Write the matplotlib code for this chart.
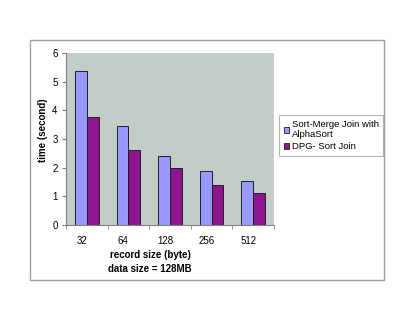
import matplotlib
matplotlib.use('Agg')
import matplotlib.pyplot as plt
import matplotlib.patches as mpatches
import numpy as np

# data
record_sizes = ['32', '64', '128', '256', '512']
sort_merge = [5.37, 3.45, 2.42, 1.88, 1.53]
dpg_sort = [3.78, 2.60, 2.00, 1.39, 1.10]
series_names = ['Sort-Merge Join with\nAlphaSort', 'DPG- Sort Join']

blue = '#9999FF'
purple = '#8E1590'
bg = '#C4CCC8'

plt.rcParams['font.family'] = ['Liberation Sans', 'DejaVu Sans']

fig = plt.figure(figsize=(4.15, 3.21), dpi=100)
W, H = 415.0, 321.0

# outer chart border
fig.patches.append(mpatches.Rectangle((30 / W, 1 - 280 / H), (384 - 30) / W, (280 - 40) / H,
                                      transform=fig.transFigure, fill=False,
                                      edgecolor='#A0A0A0', linewidth=1.0))

ax = fig.add_axes([66 / W, 1 - 225 / H, (274 - 66) / W, (225 - 53) / H])
ax.set_facecolor(bg)

x = np.arange(len(record_sizes)) + 0.5
bw = 1 / 3.5
ax.bar(x - bw / 2, sort_merge, bw, color=blue, edgecolor='#202020', linewidth=0.7)
ax.bar(x + bw / 2, dpg_sort, bw, color=purple, edgecolor='#202020', linewidth=0.7)

ax.set_xlim(0, len(record_sizes))
ax.set_ylim(0, 6)
ax.set_yticks(range(7))
ax.set_xticks(x - 0.12)
ax.set_xticklabels(record_sizes)
ax.set_xticks(np.arange(len(record_sizes) + 1), minor=True)
ax.tick_params(axis='x', which='major', length=0, pad=8, labelsize=7)
ax.tick_params(axis='x', which='minor', length=3, color='#808080', direction='out')
ax.tick_params(axis='y', length=3, color='#808080', labelsize=7, pad=3)

for s in ['top', 'right']:
    ax.spines[s].set_visible(False)
for s in ['left', 'bottom']:
    ax.spines[s].set_color('#808080')
    ax.spines[s].set_linewidth(0.8)

fig.text(43 / W, 1 - 130 / H, 'time (second)', rotation=90, ha='center', va='center',
         fontsize=7, fontweight='bold')
fig.text(150 / W, 1 - 262 / H, 'record size (byte)\ndata size = 128MB', ha='center',
         va='center', fontsize=7, fontweight='bold', linespacing=1.45)

handles = [mpatches.Patch(facecolor=blue, edgecolor='#202020', linewidth=0.6),
           mpatches.Patch(facecolor=purple, edgecolor='#202020', linewidth=0.6)]
leg = fig.legend(handles, series_names, loc='upper left',
                 bbox_to_anchor=(279 / W, 1 - 115 / H), fontsize=6.8, frameon=True,
                 fancybox=False, borderpad=0.5, handlelength=0.6, handleheight=0.6,
                 handletextpad=0.25, labelspacing=0.35, borderaxespad=0)
leg.get_frame().set_edgecolor('#A0A0A0')
leg.get_frame().set_linewidth(0.8)

fig.savefig('out.png', dpi=100)
